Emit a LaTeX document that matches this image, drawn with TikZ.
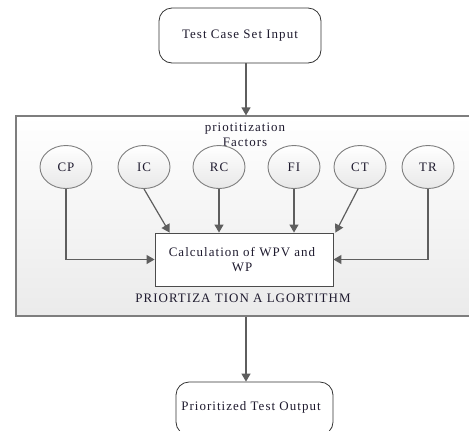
\documentclass[tikz,border=0pt]{standalone}
\usepackage{fontspec}
\setmainfont[LetterSpace=8]{Liberation Serif}
\usepackage{tikz}
\usepackage{xcolor}
\usetikzlibrary{arrows.meta,shapes.geometric}

\definecolor{linegray}{HTML}{5E5E5E}
\definecolor{framegray}{HTML}{7E7E7E}
\definecolor{inkblue}{HTML}{1E1A2E}

\begin{document}
\begin{tikzpicture}[
	x = 1bp, y = -1bp,
	every node/.style = {text = inkblue, font = \fontsize{13}{15}\selectfont},
	terminal/.style = {draw = black!80, fill = white, rounded corners = 13bp, line width = 0.8bp},
	factor/.style = {draw = framegray, ellipse, minimum width = 52bp, minimum height = 43bp,
		top color = white, bottom color = black!9, line width = 0.9bp},
	flow/.style = {draw = linegray, line width = 1.2bp, -{Triangle[length = 8bp, width = 9bp]}}
]
\useasboundingbox (0,0) rectangle (469,430);
\clip (0,0) rectangle (469,430);

% outer algorithm frame
\node[draw = framegray, line width = 1.2bp, top color = white, bottom color = black!8,
	minimum width = 464bp, minimum height = 200bp] (algo) at (248,216) {};

\node[terminal, minimum width = 162bp, minimum height = 55bp] (input) at (240,35.5) {Test Case Set Input};
\node[terminal, minimum width = 157bp, minimum height = 53bp] (output) at (254.5,408.5) {};
\node (outtext) at (251,407) {Prioritized Test Output};

\node[align = center] (title) at (245,134.5) {priotitization\\Factors};

\node[factor] (cp) at (66,167) {CP};
\node[factor] (ic) at (144,167) {IC};
\node[factor] (rc) at (219,167) {RC};
\node[factor] (fi) at (294,167) {FI};
\node[factor] (ct) at (360,167) {CT};
\node[factor] (tr) at (428,167) {TR};

\node[draw = black!70, fill = white, line width = 0.9bp, minimum width = 178bp, minimum height = 53bp] (calc) at (244,259.5) {};
\node[align = center] (calctext) at (242,259.5) {Calculation of WPV and\\WP};

\node (algoname) at (243,298) {PRIORTIZA TION A LGORTITHM};

% connectors
\draw[flow] ([xshift = 2bp]input.south -| calc.north) -- ([xshift = 2bp]algo.north -| calc.north);
\draw[flow] ([xshift = 2bp]algo.south -| calc.south) -- ([xshift = 2bp]output.north -| calc.south);
\draw[flow] (cp.south) |- (calc.west);
\draw[flow] (tr.south) |- (calc.east);
\draw[flow] (ic.south) -- ([xshift = 15bp]calc.north west);
\draw[flow] (rc.south) -- (rc.south |- calc.north);
\draw[flow] (fi.south) -- (fi.south |- calc.north);
\draw[flow] ([xshift = -2bp]ct.south) -- ([xshift = 2bp]calc.north east);
\end{tikzpicture}
\end{document}
